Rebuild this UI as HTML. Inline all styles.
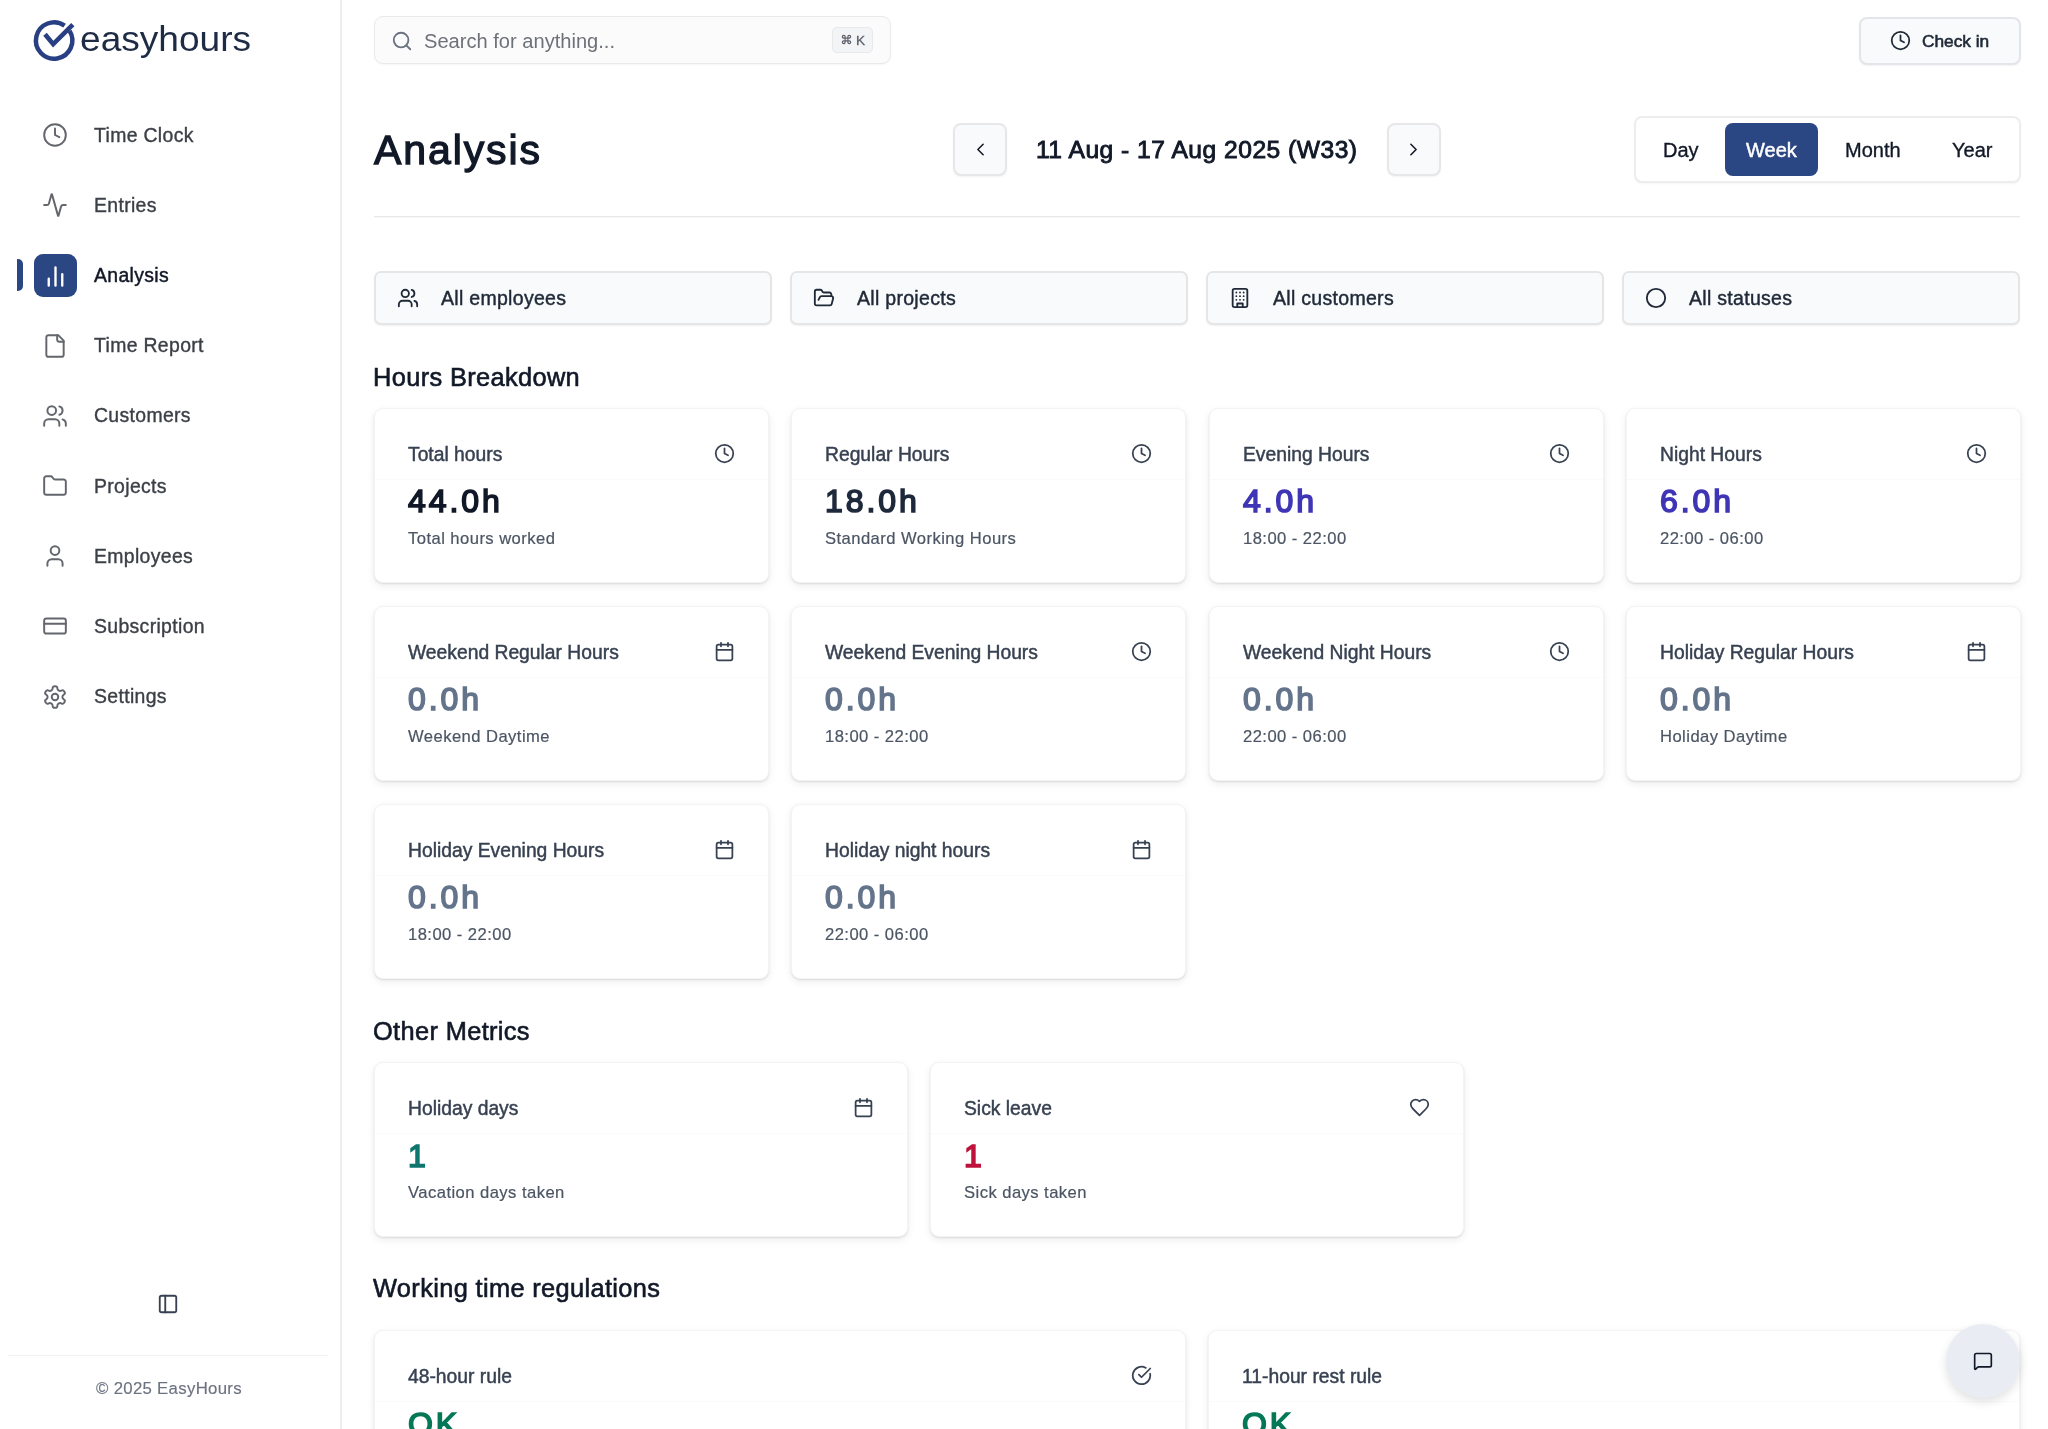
<!DOCTYPE html>
<html><head><meta charset="utf-8"><title>Analysis - easyhours</title>
<style>
html,body{margin:0;padding:0;width:2048px;height:1429px;overflow:hidden;background:#FFFFFF;}
body{position:relative;font-family:"Liberation Sans",sans-serif;}
.t{position:absolute;line-height:1;white-space:nowrap;will-change:transform;}
.ic{position:absolute;display:block;}
.box{position:absolute;box-sizing:border-box;}
.card{position:absolute;box-sizing:border-box;background:#FFFFFF;border:1px solid #F4F4F5;border-radius:9px;box-shadow:0 3px 8px rgba(0,0,0,0.07),0 1px 2px rgba(0,0,0,0.1);}
.sidebar{position:absolute;left:0;top:0;width:340px;height:1429px;border-right:2px solid #EEEEEF;box-sizing:content-box;background:#FFFFFF;}
</style></head><body>
<div class="sidebar"></div>
<svg class="ic" style="left:28px;top:14px" width="54" height="54" viewBox="28 14 54 54" fill="none">
<path d="M69.6 30.9 A18.2 18.2 0 1 1 64.6 25.6" stroke="#293F84" stroke-width="4.5" stroke-linecap="butt"/>
<path d="M45 34.2 L53.2 44.2 L72.8 24.6" stroke="#293F84" stroke-width="4.6" stroke-linecap="butt" stroke-linejoin="miter"/>
</svg>
<div class="t" style="left:80px;top:21.79px;font-size:34.5px;color:#1E2B45;font-weight:normal;transform:scaleX(1.075);transform-origin:0 0">easyhours</div>
<svg class="ic" style="left:42px;top:122.0px;" width="26" height="26" viewBox="0 0 24 24" fill="none" stroke="#63666C" stroke-width="1.8" stroke-linecap="round" stroke-linejoin="round"><circle cx="12" cy="12" r="10"/><path d="M12 6v6l4 2"/></svg>
<div class="t" style="left:94px;top:125.57px;font-size:19.4px;color:#3B3F46;font-weight:normal;-webkit-text-stroke:0.38px #3B3F46;letter-spacing:0.35px">Time Clock</div>
<svg class="ic" style="left:42px;top:192.2px;" width="26" height="26" viewBox="0 0 24 24" fill="none" stroke="#63666C" stroke-width="1.8" stroke-linecap="round" stroke-linejoin="round"><path d="M22 12h-2.48a2 2 0 0 0-1.93 1.46l-2.35 8.36a.25.25 0 0 1-.48 0L9.24 2.18a.25.25 0 0 0-.48 0l-2.35 8.36A2 2 0 0 1 4.49 12H2"/></svg>
<div class="t" style="left:94px;top:195.77px;font-size:19.4px;color:#3B3F46;font-weight:normal;-webkit-text-stroke:0.38px #3B3F46;letter-spacing:0.35px">Entries</div>
<div style="position:absolute;left:17px;top:259px;width:5.5px;height:32px;background:#2A4683;border-radius:0 5px 5px 0"></div>
<div style="position:absolute;left:34px;top:254px;width:43px;height:43px;background:#2A4683;border-radius:9px"></div>
<svg class="ic" style="left:41.5px;top:262.9px;" width="27" height="27" viewBox="0 0 24 24" fill="none" stroke="#FFFFFF" stroke-width="2.1" stroke-linecap="round" stroke-linejoin="round"><path d="M18 20V10"/><path d="M12 20V4"/><path d="M6 20v-6"/></svg>
<div class="t" style="left:94px;top:265.97px;font-size:19.4px;color:#111827;font-weight:normal;-webkit-text-stroke:0.45px #111827;letter-spacing:0.35px">Analysis</div>
<svg class="ic" style="left:42px;top:332.6px;" width="26" height="26" viewBox="0 0 24 24" fill="none" stroke="#63666C" stroke-width="1.8" stroke-linecap="round" stroke-linejoin="round"><path d="M15 2H6a2 2 0 0 0-2 2v16a2 2 0 0 0 2 2h12a2 2 0 0 0 2-2V7Z"/><path d="M14 2v4a2 2 0 0 0 2 2h4"/></svg>
<div class="t" style="left:94px;top:336.17px;font-size:19.4px;color:#3B3F46;font-weight:normal;-webkit-text-stroke:0.38px #3B3F46;letter-spacing:0.35px">Time Report</div>
<svg class="ic" style="left:42px;top:402.8px;" width="26" height="26" viewBox="0 0 24 24" fill="none" stroke="#63666C" stroke-width="1.8" stroke-linecap="round" stroke-linejoin="round"><path d="M16 21v-2a4 4 0 0 0-4-4H6a4 4 0 0 0-4 4v2"/><circle cx="9" cy="7" r="4"/><path d="M22 21v-2a4 4 0 0 0-3-3.87"/><path d="M16 3.13a4 4 0 0 1 0 7.75"/></svg>
<div class="t" style="left:94px;top:406.37px;font-size:19.4px;color:#3B3F46;font-weight:normal;-webkit-text-stroke:0.38px #3B3F46;letter-spacing:0.35px">Customers</div>
<svg class="ic" style="left:42px;top:473.0px;" width="26" height="26" viewBox="0 0 24 24" fill="none" stroke="#63666C" stroke-width="1.8" stroke-linecap="round" stroke-linejoin="round"><path d="M20 20a2 2 0 0 0 2-2V8a2 2 0 0 0-2-2h-7.9a2 2 0 0 1-1.69-.9L9.6 3.9A2 2 0 0 0 7.93 3H4a2 2 0 0 0-2 2v13a2 2 0 0 0 2 2Z"/></svg>
<div class="t" style="left:94px;top:476.57px;font-size:19.4px;color:#3B3F46;font-weight:normal;-webkit-text-stroke:0.38px #3B3F46;letter-spacing:0.35px">Projects</div>
<svg class="ic" style="left:42px;top:543.2px;" width="26" height="26" viewBox="0 0 24 24" fill="none" stroke="#63666C" stroke-width="1.8" stroke-linecap="round" stroke-linejoin="round"><path d="M19 21v-2a4 4 0 0 0-4-4H9a4 4 0 0 0-4 4v2"/><circle cx="12" cy="7" r="4"/></svg>
<div class="t" style="left:94px;top:546.77px;font-size:19.4px;color:#3B3F46;font-weight:normal;-webkit-text-stroke:0.38px #3B3F46;letter-spacing:0.35px">Employees</div>
<svg class="ic" style="left:42px;top:613.4000000000001px;" width="26" height="26" viewBox="0 0 24 24" fill="none" stroke="#63666C" stroke-width="1.8" stroke-linecap="round" stroke-linejoin="round"><rect width="20" height="14" x="2" y="5" rx="2"/><path d="M2 10h20"/></svg>
<div class="t" style="left:94px;top:616.97px;font-size:19.4px;color:#3B3F46;font-weight:normal;-webkit-text-stroke:0.38px #3B3F46;letter-spacing:0.35px">Subscription</div>
<svg class="ic" style="left:42px;top:683.6px;" width="26" height="26" viewBox="0 0 24 24" fill="none" stroke="#63666C" stroke-width="1.8" stroke-linecap="round" stroke-linejoin="round"><path d="M12.22 2h-.44a2 2 0 0 0-2 2v.18a2 2 0 0 1-1 1.73l-.43.25a2 2 0 0 1-2 0l-.15-.08a2 2 0 0 0-2.73.73l-.22.38a2 2 0 0 0 .73 2.73l.15.1a2 2 0 0 1 1 1.72v.51a2 2 0 0 1-1 1.74l-.15.09a2 2 0 0 0-.73 2.73l.22.38a2 2 0 0 0 2.73.73l.15-.08a2 2 0 0 1 2 0l.43.25a2 2 0 0 1 1 1.73V20a2 2 0 0 0 2 2h.44a2 2 0 0 0 2-2v-.18a2 2 0 0 1 1-1.73l.43-.25a2 2 0 0 1 2 0l.15.08a2 2 0 0 0 2.73-.73l.22-.39a2 2 0 0 0-.73-2.73l-.15-.08a2 2 0 0 1-1-1.74v-.5a2 2 0 0 1 1-1.74l.15-.09a2 2 0 0 0 .73-2.73l-.22-.38a2 2 0 0 0-2.73-.73l-.15.08a2 2 0 0 1-2 0l-.43-.25a2 2 0 0 1-1-1.73V4a2 2 0 0 0-2-2z"/><circle cx="12" cy="12" r="3"/></svg>
<div class="t" style="left:94px;top:687.17px;font-size:19.4px;color:#3B3F46;font-weight:normal;-webkit-text-stroke:0.38px #3B3F46;letter-spacing:0.35px">Settings</div>
<svg class="ic" style="left:157px;top:1292.5px;" width="22" height="22" viewBox="0 0 24 24" fill="none" stroke="#374151" stroke-width="2" stroke-linecap="round" stroke-linejoin="round"><rect width="18" height="18" x="3" y="3" rx="2"/><path d="M9 3v18"/></svg>
<div style="position:absolute;left:8px;top:1355px;width:320px;height:1px;background:#F1F1F2"></div>
<div class="t" style="left:95.5px;top:1381.08px;font-size:16.8px;color:#6B7280;font-weight:normal;letter-spacing:0.3px;-webkit-text-stroke:0.15px #6B7280">© 2025 EasyHours</div>
<div class="box" style="left:374px;top:16px;width:517px;height:48px;border-radius:9px;background:#FBFBFC;border:1.5px solid #EAEAEC;box-shadow:0 1px 2px rgba(0,0,0,0.04)"></div>
<svg class="ic" style="left:391px;top:30px;" width="22" height="22" viewBox="0 0 24 24" fill="none" stroke="#6B7280" stroke-width="2" stroke-linecap="round" stroke-linejoin="round"><circle cx="11" cy="11" r="8"/><path d="m21 21-4.3-4.3"/></svg>
<div class="t" style="left:424px;top:31.48px;font-size:20.1px;color:#6E7178;font-weight:normal;">Search for anything...</div>
<div class="box" style="left:832px;top:27px;width:41px;height:26px;border-radius:5px;background:#F3F4F6;border:1px solid #E8E9EC"></div>
<svg class="ic" style="left:841px;top:34px" width="11" height="11" viewBox="0 0 24 24" fill="none" stroke="#5B616B" stroke-width="2.6" stroke-linecap="round" stroke-linejoin="round"><path d="M15 6v12a3 3 0 1 0 3-3H6a3 3 0 1 0 3 3V6a3 3 0 1 0-3 3h12a3 3 0 1 0-3-3"/></svg>
<div class="t" style="left:856.3px;top:33.68px;font-size:13.6px;color:#5B616B;font-weight:normal;-webkit-text-stroke:0.3px #5B616B">K</div>
<div class="box" style="left:1859px;top:17px;width:162px;height:48px;border-radius:8px;background:#F9FAFB;border:2px solid #E4E5EA;box-shadow:0 1px 2px rgba(0,0,0,0.05)"></div>
<svg class="ic" style="left:1890px;top:30px;" width="21" height="21" viewBox="0 0 24 24" fill="none" stroke="#1F2937" stroke-width="2" stroke-linecap="round" stroke-linejoin="round"><circle cx="12" cy="12" r="10"/><path d="M12 6v6l4 2"/></svg>
<div class="t" style="left:1922px;top:32.55px;font-size:17.3px;color:#1F2937;font-weight:normal;-webkit-text-stroke:0.6px #1F2937">Check in</div>
<div class="t" style="left:374px;top:129.89px;font-size:41px;color:#111827;font-weight:normal;-webkit-text-stroke:1.3px #111827;letter-spacing:1.9px">Analysis</div>
<div class="box" style="left:953px;top:123px;width:54px;height:53px;border-radius:8px;background:#F9FAFB;border:2px solid #E7E7E9;box-shadow:0 1px 2px rgba(0,0,0,0.05)"></div>
<svg class="ic" style="left:970px;top:139px;" width="21" height="21" viewBox="0 0 24 24" fill="none" stroke="#111827" stroke-width="1.8" stroke-linecap="round" stroke-linejoin="round"><path d="m15 18-6-6 6-6"/></svg>
<div class="t" style="left:1035.5px;top:138.17px;font-size:24.6px;color:#111827;font-weight:normal;-webkit-text-stroke:0.9px #111827;letter-spacing:0.5px">11 Aug - 17 Aug 2025 (W33)</div>
<div class="box" style="left:1387px;top:123px;width:54px;height:53px;border-radius:8px;background:#F9FAFB;border:2px solid #E7E7E9;box-shadow:0 1px 2px rgba(0,0,0,0.05)"></div>
<svg class="ic" style="left:1403px;top:139px;" width="21" height="21" viewBox="0 0 24 24" fill="none" stroke="#111827" stroke-width="1.8" stroke-linecap="round" stroke-linejoin="round"><path d="m9 18 6-6-6-6"/></svg>
<div class="box" style="left:1634px;top:116px;width:387px;height:67px;border-radius:8px;background:#FFFFFF;border:2px solid #EDEDEE;box-shadow:0 1px 2px rgba(0,0,0,0.04)"></div>
<div class="box" style="left:1725px;top:123px;width:93px;height:53px;border-radius:8px;background:#2A4683"></div>
<div class="t" style="left:1663px;top:140.07px;font-size:20px;color:#111827;font-weight:normal;-webkit-text-stroke:0.35px #111827">Day</div>
<div class="t" style="left:1746px;top:140.07px;font-size:20px;color:#FFFFFF;font-weight:normal;-webkit-text-stroke:0.45px #FFFFFF">Week</div>
<div class="t" style="left:1845px;top:140.07px;font-size:20px;color:#111827;font-weight:normal;-webkit-text-stroke:0.35px #111827">Month</div>
<div class="t" style="left:1952px;top:140.07px;font-size:20px;color:#111827;font-weight:normal;-webkit-text-stroke:0.35px #111827">Year</div>
<div style="position:absolute;left:374px;top:216px;width:1646px;height:1px;background:#E6E7E9;box-shadow:0 1px 2px rgba(0,0,0,0.05)"></div>
<div class="box" style="left:374px;top:271px;width:398px;height:54px;border-radius:7px;background:#F9FAFB;border:2px solid #E6E6E8;box-shadow:0 1px 2px rgba(0,0,0,0.06)"></div>
<svg class="ic" style="left:397px;top:287px;" width="22" height="22" viewBox="0 0 24 24" fill="none" stroke="#1F2937" stroke-width="2" stroke-linecap="round" stroke-linejoin="round"><path d="M16 21v-2a4 4 0 0 0-4-4H6a4 4 0 0 0-4 4v2"/><circle cx="9" cy="7" r="4"/><path d="M22 21v-2a4 4 0 0 0-3-3.87"/><path d="M16 3.13a4 4 0 0 1 0 7.75"/></svg>
<div class="t" style="left:441px;top:289.29px;font-size:19.5px;color:#1F2937;font-weight:normal;-webkit-text-stroke:0.45px #1F2937;letter-spacing:0.3px">All employees</div>
<div class="box" style="left:790px;top:271px;width:398px;height:54px;border-radius:7px;background:#F9FAFB;border:2px solid #E6E6E8;box-shadow:0 1px 2px rgba(0,0,0,0.06)"></div>
<svg class="ic" style="left:813px;top:287px;" width="22" height="22" viewBox="0 0 24 24" fill="none" stroke="#1F2937" stroke-width="2" stroke-linecap="round" stroke-linejoin="round"><path d="m6 14 1.5-2.9A2 2 0 0 1 9.24 10H20a2 2 0 0 1 1.94 2.5l-1.54 6a2 2 0 0 1-1.95 1.5H4a2 2 0 0 1-2-2V5a2 2 0 0 1 2-2h3.9a2 2 0 0 1 1.69.9l.81 1.2a2 2 0 0 0 1.67.9H18a2 2 0 0 1 2 2v2"/></svg>
<div class="t" style="left:857px;top:289.29px;font-size:19.5px;color:#1F2937;font-weight:normal;-webkit-text-stroke:0.45px #1F2937;letter-spacing:0.3px">All projects</div>
<div class="box" style="left:1206px;top:271px;width:398px;height:54px;border-radius:7px;background:#F9FAFB;border:2px solid #E6E6E8;box-shadow:0 1px 2px rgba(0,0,0,0.06)"></div>
<svg class="ic" style="left:1229px;top:287px;" width="22" height="22" viewBox="0 0 24 24" fill="none" stroke="#1F2937" stroke-width="2" stroke-linecap="round" stroke-linejoin="round"><rect width="16" height="20" x="4" y="2" rx="2" ry="2"/><path d="M9 22v-4h6v4"/><path d="M8 6h.01"/><path d="M16 6h.01"/><path d="M12 6h.01"/><path d="M12 10h.01"/><path d="M12 14h.01"/><path d="M16 10h.01"/><path d="M16 14h.01"/><path d="M8 10h.01"/><path d="M8 14h.01"/></svg>
<div class="t" style="left:1273px;top:289.29px;font-size:19.5px;color:#1F2937;font-weight:normal;-webkit-text-stroke:0.45px #1F2937;letter-spacing:0.3px">All customers</div>
<div class="box" style="left:1622px;top:271px;width:398px;height:54px;border-radius:7px;background:#F9FAFB;border:2px solid #E6E6E8;box-shadow:0 1px 2px rgba(0,0,0,0.06)"></div>
<svg class="ic" style="left:1645px;top:287px;" width="22" height="22" viewBox="0 0 24 24" fill="none" stroke="#1F2937" stroke-width="2" stroke-linecap="round" stroke-linejoin="round"><circle cx="12" cy="12" r="10"/></svg>
<div class="t" style="left:1689px;top:289.29px;font-size:19.5px;color:#1F2937;font-weight:normal;-webkit-text-stroke:0.45px #1F2937;letter-spacing:0.3px">All statuses</div>
<div class="t" style="left:372.5px;top:364.99px;font-size:25.4px;color:#111827;font-weight:normal;-webkit-text-stroke:0.6px #111827;letter-spacing:0.35px">Hours Breakdown</div>
<div class="card" style="left:374.0px;top:407.5px;width:395px;height:175.5px"></div>
<div style="position:absolute;left:375.0px;top:478.5px;width:393px;height:1px;background:#FAFAFB"></div>
<div class="t" style="left:408.0px;top:444.66px;font-size:19.3px;color:#374151;font-weight:normal;-webkit-text-stroke:0.45px #374151">Total hours</div>
<svg class="ic" style="left:714.0px;top:442.5px;" width="21" height="21" viewBox="0 0 24 24" fill="none" stroke="#374151" stroke-width="2" stroke-linecap="round" stroke-linejoin="round"><circle cx="12" cy="12" r="10"/><path d="M12 6v6l4 2"/></svg>
<div class="t" style="left:408.0px;top:485.41px;font-size:32px;color:#111827;font-weight:normal;-webkit-text-stroke:1.6px #111827;letter-spacing:2.9px">44.0h</div>
<div class="t" style="left:408.0px;top:530.94px;font-size:16.6px;color:#4B5563;font-weight:normal;-webkit-text-stroke:0.2px #4B5563;letter-spacing:0.45px">Total hours worked</div>
<div class="card" style="left:791.3px;top:407.5px;width:395px;height:175.5px"></div>
<div style="position:absolute;left:792.3px;top:478.5px;width:393px;height:1px;background:#FAFAFB"></div>
<div class="t" style="left:825.3px;top:444.66px;font-size:19.3px;color:#374151;font-weight:normal;-webkit-text-stroke:0.45px #374151">Regular Hours</div>
<svg class="ic" style="left:1131.3px;top:442.5px;" width="21" height="21" viewBox="0 0 24 24" fill="none" stroke="#374151" stroke-width="2" stroke-linecap="round" stroke-linejoin="round"><circle cx="12" cy="12" r="10"/><path d="M12 6v6l4 2"/></svg>
<div class="t" style="left:825.3px;top:485.41px;font-size:32px;color:#1E293B;font-weight:normal;-webkit-text-stroke:1.6px #1E293B;letter-spacing:2.9px">18.0h</div>
<div class="t" style="left:825.3px;top:530.94px;font-size:16.6px;color:#4B5563;font-weight:normal;-webkit-text-stroke:0.2px #4B5563;letter-spacing:0.45px">Standard Working Hours</div>
<div class="card" style="left:1208.6px;top:407.5px;width:395px;height:175.5px"></div>
<div style="position:absolute;left:1209.6px;top:478.5px;width:393px;height:1px;background:#FAFAFB"></div>
<div class="t" style="left:1242.6px;top:444.66px;font-size:19.3px;color:#374151;font-weight:normal;-webkit-text-stroke:0.45px #374151">Evening Hours</div>
<svg class="ic" style="left:1548.6px;top:442.5px;" width="21" height="21" viewBox="0 0 24 24" fill="none" stroke="#374151" stroke-width="2" stroke-linecap="round" stroke-linejoin="round"><circle cx="12" cy="12" r="10"/><path d="M12 6v6l4 2"/></svg>
<div class="t" style="left:1242.6px;top:485.41px;font-size:32px;color:#3F35B5;font-weight:normal;-webkit-text-stroke:1.6px #3F35B5;letter-spacing:2.9px">4.0h</div>
<div class="t" style="left:1242.6px;top:530.94px;font-size:16.6px;color:#4B5563;font-weight:normal;-webkit-text-stroke:0.2px #4B5563;letter-spacing:0.45px">18:00 - 22:00</div>
<div class="card" style="left:1625.9px;top:407.5px;width:395px;height:175.5px"></div>
<div style="position:absolute;left:1626.9px;top:478.5px;width:393px;height:1px;background:#FAFAFB"></div>
<div class="t" style="left:1659.9px;top:444.66px;font-size:19.3px;color:#374151;font-weight:normal;-webkit-text-stroke:0.45px #374151">Night Hours</div>
<svg class="ic" style="left:1965.9px;top:442.5px;" width="21" height="21" viewBox="0 0 24 24" fill="none" stroke="#374151" stroke-width="2" stroke-linecap="round" stroke-linejoin="round"><circle cx="12" cy="12" r="10"/><path d="M12 6v6l4 2"/></svg>
<div class="t" style="left:1659.9px;top:485.41px;font-size:32px;color:#3F35B5;font-weight:normal;-webkit-text-stroke:1.6px #3F35B5;letter-spacing:2.9px">6.0h</div>
<div class="t" style="left:1659.9px;top:530.94px;font-size:16.6px;color:#4B5563;font-weight:normal;-webkit-text-stroke:0.2px #4B5563;letter-spacing:0.45px">22:00 - 06:00</div>
<div class="card" style="left:374.0px;top:605.5px;width:395px;height:175.5px"></div>
<div style="position:absolute;left:375.0px;top:676.5px;width:393px;height:1px;background:#FAFAFB"></div>
<div class="t" style="left:408.0px;top:642.66px;font-size:19.3px;color:#374151;font-weight:normal;-webkit-text-stroke:0.45px #374151">Weekend Regular Hours</div>
<svg class="ic" style="left:714.0px;top:640.5px;" width="21" height="21" viewBox="0 0 24 24" fill="none" stroke="#374151" stroke-width="2" stroke-linecap="round" stroke-linejoin="round"><path d="M8 2v4"/><path d="M16 2v4"/><rect width="18" height="18" x="3" y="4" rx="2"/><path d="M3 10h18"/></svg>
<div class="t" style="left:408.0px;top:683.41px;font-size:32px;color:#64748B;font-weight:normal;-webkit-text-stroke:1.6px #64748B;letter-spacing:2.9px">0.0h</div>
<div class="t" style="left:408.0px;top:728.94px;font-size:16.6px;color:#4B5563;font-weight:normal;-webkit-text-stroke:0.2px #4B5563;letter-spacing:0.45px">Weekend Daytime</div>
<div class="card" style="left:791.3px;top:605.5px;width:395px;height:175.5px"></div>
<div style="position:absolute;left:792.3px;top:676.5px;width:393px;height:1px;background:#FAFAFB"></div>
<div class="t" style="left:825.3px;top:642.66px;font-size:19.3px;color:#374151;font-weight:normal;-webkit-text-stroke:0.45px #374151">Weekend Evening Hours</div>
<svg class="ic" style="left:1131.3px;top:640.5px;" width="21" height="21" viewBox="0 0 24 24" fill="none" stroke="#374151" stroke-width="2" stroke-linecap="round" stroke-linejoin="round"><circle cx="12" cy="12" r="10"/><path d="M12 6v6l4 2"/></svg>
<div class="t" style="left:825.3px;top:683.41px;font-size:32px;color:#64748B;font-weight:normal;-webkit-text-stroke:1.6px #64748B;letter-spacing:2.9px">0.0h</div>
<div class="t" style="left:825.3px;top:728.94px;font-size:16.6px;color:#4B5563;font-weight:normal;-webkit-text-stroke:0.2px #4B5563;letter-spacing:0.45px">18:00 - 22:00</div>
<div class="card" style="left:1208.6px;top:605.5px;width:395px;height:175.5px"></div>
<div style="position:absolute;left:1209.6px;top:676.5px;width:393px;height:1px;background:#FAFAFB"></div>
<div class="t" style="left:1242.6px;top:642.66px;font-size:19.3px;color:#374151;font-weight:normal;-webkit-text-stroke:0.45px #374151">Weekend Night Hours</div>
<svg class="ic" style="left:1548.6px;top:640.5px;" width="21" height="21" viewBox="0 0 24 24" fill="none" stroke="#374151" stroke-width="2" stroke-linecap="round" stroke-linejoin="round"><circle cx="12" cy="12" r="10"/><path d="M12 6v6l4 2"/></svg>
<div class="t" style="left:1242.6px;top:683.41px;font-size:32px;color:#64748B;font-weight:normal;-webkit-text-stroke:1.6px #64748B;letter-spacing:2.9px">0.0h</div>
<div class="t" style="left:1242.6px;top:728.94px;font-size:16.6px;color:#4B5563;font-weight:normal;-webkit-text-stroke:0.2px #4B5563;letter-spacing:0.45px">22:00 - 06:00</div>
<div class="card" style="left:1625.9px;top:605.5px;width:395px;height:175.5px"></div>
<div style="position:absolute;left:1626.9px;top:676.5px;width:393px;height:1px;background:#FAFAFB"></div>
<div class="t" style="left:1659.9px;top:642.66px;font-size:19.3px;color:#374151;font-weight:normal;-webkit-text-stroke:0.45px #374151">Holiday Regular Hours</div>
<svg class="ic" style="left:1965.9px;top:640.5px;" width="21" height="21" viewBox="0 0 24 24" fill="none" stroke="#374151" stroke-width="2" stroke-linecap="round" stroke-linejoin="round"><path d="M8 2v4"/><path d="M16 2v4"/><rect width="18" height="18" x="3" y="4" rx="2"/><path d="M3 10h18"/></svg>
<div class="t" style="left:1659.9px;top:683.41px;font-size:32px;color:#64748B;font-weight:normal;-webkit-text-stroke:1.6px #64748B;letter-spacing:2.9px">0.0h</div>
<div class="t" style="left:1659.9px;top:728.94px;font-size:16.6px;color:#4B5563;font-weight:normal;-webkit-text-stroke:0.2px #4B5563;letter-spacing:0.45px">Holiday Daytime</div>
<div class="card" style="left:374.0px;top:803.5px;width:395px;height:175.5px"></div>
<div style="position:absolute;left:375.0px;top:874.5px;width:393px;height:1px;background:#FAFAFB"></div>
<div class="t" style="left:408.0px;top:840.66px;font-size:19.3px;color:#374151;font-weight:normal;-webkit-text-stroke:0.45px #374151">Holiday Evening Hours</div>
<svg class="ic" style="left:714.0px;top:838.5px;" width="21" height="21" viewBox="0 0 24 24" fill="none" stroke="#374151" stroke-width="2" stroke-linecap="round" stroke-linejoin="round"><path d="M8 2v4"/><path d="M16 2v4"/><rect width="18" height="18" x="3" y="4" rx="2"/><path d="M3 10h18"/></svg>
<div class="t" style="left:408.0px;top:881.41px;font-size:32px;color:#64748B;font-weight:normal;-webkit-text-stroke:1.6px #64748B;letter-spacing:2.9px">0.0h</div>
<div class="t" style="left:408.0px;top:926.94px;font-size:16.6px;color:#4B5563;font-weight:normal;-webkit-text-stroke:0.2px #4B5563;letter-spacing:0.45px">18:00 - 22:00</div>
<div class="card" style="left:791.3px;top:803.5px;width:395px;height:175.5px"></div>
<div style="position:absolute;left:792.3px;top:874.5px;width:393px;height:1px;background:#FAFAFB"></div>
<div class="t" style="left:825.3px;top:840.66px;font-size:19.3px;color:#374151;font-weight:normal;-webkit-text-stroke:0.45px #374151">Holiday night hours</div>
<svg class="ic" style="left:1131.3px;top:838.5px;" width="21" height="21" viewBox="0 0 24 24" fill="none" stroke="#374151" stroke-width="2" stroke-linecap="round" stroke-linejoin="round"><path d="M8 2v4"/><path d="M16 2v4"/><rect width="18" height="18" x="3" y="4" rx="2"/><path d="M3 10h18"/></svg>
<div class="t" style="left:825.3px;top:881.41px;font-size:32px;color:#64748B;font-weight:normal;-webkit-text-stroke:1.6px #64748B;letter-spacing:2.9px">0.0h</div>
<div class="t" style="left:825.3px;top:926.94px;font-size:16.6px;color:#4B5563;font-weight:normal;-webkit-text-stroke:0.2px #4B5563;letter-spacing:0.45px">22:00 - 06:00</div>
<div class="t" style="left:372.5px;top:1019.49px;font-size:25.4px;color:#111827;font-weight:normal;-webkit-text-stroke:0.6px #111827;letter-spacing:0.35px">Other Metrics</div>
<div class="card" style="left:374px;top:1062px;width:534px;height:175px"></div>
<div style="position:absolute;left:375px;top:1133px;width:532px;height:1px;background:#FAFAFB"></div>
<div class="t" style="left:408px;top:1099.16px;font-size:19.3px;color:#374151;font-weight:normal;-webkit-text-stroke:0.45px #374151">Holiday days</div>
<svg class="ic" style="left:853px;top:1097px;" width="21" height="21" viewBox="0 0 24 24" fill="none" stroke="#374151" stroke-width="2" stroke-linecap="round" stroke-linejoin="round"><path d="M8 2v4"/><path d="M16 2v4"/><rect width="18" height="18" x="3" y="4" rx="2"/><path d="M3 10h18"/></svg>
<div class="t" style="left:408px;top:1139.91px;font-size:32px;color:#0F766E;font-weight:normal;-webkit-text-stroke:1.6px #0F766E;letter-spacing:2.9px">1</div>
<div class="t" style="left:408px;top:1185.44px;font-size:16.6px;color:#4B5563;font-weight:normal;-webkit-text-stroke:0.2px #4B5563;letter-spacing:0.45px">Vacation days taken</div>
<div class="card" style="left:930px;top:1062px;width:534px;height:175px"></div>
<div style="position:absolute;left:931px;top:1133px;width:532px;height:1px;background:#FAFAFB"></div>
<div class="t" style="left:964px;top:1099.16px;font-size:19.3px;color:#374151;font-weight:normal;-webkit-text-stroke:0.45px #374151">Sick leave</div>
<svg class="ic" style="left:1409px;top:1097px;" width="21" height="21" viewBox="0 0 24 24" fill="none" stroke="#374151" stroke-width="2" stroke-linecap="round" stroke-linejoin="round"><path d="M19 14c1.49-1.46 3-3.21 3-5.5A5.5 5.5 0 0 0 16.5 3c-1.76 0-3 .5-4.5 2-1.5-1.5-2.74-2-4.5-2A5.5 5.5 0 0 0 2 8.5c0 2.3 1.5 4.05 3 5.5l7 7Z"/></svg>
<div class="t" style="left:964px;top:1139.91px;font-size:32px;color:#BE123C;font-weight:normal;-webkit-text-stroke:1.6px #BE123C;letter-spacing:2.9px">1</div>
<div class="t" style="left:964px;top:1185.44px;font-size:16.6px;color:#4B5563;font-weight:normal;-webkit-text-stroke:0.2px #4B5563;letter-spacing:0.45px">Sick days taken</div>
<div class="t" style="left:372.5px;top:1276.49px;font-size:25.4px;color:#111827;font-weight:normal;-webkit-text-stroke:0.6px #111827;letter-spacing:0.35px">Working time regulations</div>
<div class="card" style="left:374px;top:1330px;width:812px;height:176px"></div>
<div style="position:absolute;left:375px;top:1401px;width:810px;height:1px;background:#FAFAFB"></div>
<div class="t" style="left:408px;top:1367.16px;font-size:19.3px;color:#374151;font-weight:normal;-webkit-text-stroke:0.45px #374151">48-hour rule</div>
<svg class="ic" style="left:1131px;top:1365px;" width="21" height="21" viewBox="0 0 24 24" fill="none" stroke="#374151" stroke-width="2" stroke-linecap="round" stroke-linejoin="round"><path d="M21.801 10A10 10 0 1 1 17 3.335"/><path d="m9 11 3 3L22 4"/></svg>
<div class="t" style="left:408px;top:1407.91px;font-size:32px;color:#047857;font-weight:normal;-webkit-text-stroke:1.6px #047857;letter-spacing:2.9px">OK</div>
<div class="card" style="left:1208px;top:1330px;width:812px;height:176px"></div>
<div style="position:absolute;left:1209px;top:1401px;width:810px;height:1px;background:#FAFAFB"></div>
<div class="t" style="left:1242px;top:1367.16px;font-size:19.3px;color:#374151;font-weight:normal;-webkit-text-stroke:0.45px #374151">11-hour rest rule</div>
<svg class="ic" style="left:1965px;top:1365px;" width="21" height="21" viewBox="0 0 24 24" fill="none" stroke="#374151" stroke-width="2" stroke-linecap="round" stroke-linejoin="round"><path d="M21.801 10A10 10 0 1 1 17 3.335"/><path d="m9 11 3 3L22 4"/></svg>
<div class="t" style="left:1242px;top:1407.91px;font-size:32px;color:#047857;font-weight:normal;-webkit-text-stroke:1.6px #047857;letter-spacing:2.9px">OK</div>
<div class="box" style="left:1946px;top:1324px;width:74px;height:74px;border-radius:50%;background:#E9EDF3;box-shadow:0 4px 10px rgba(0,0,0,0.12)"></div>
<svg class="ic" style="left:1973px;top:1351px;" width="20" height="20" viewBox="0 0 24 24" fill="none" stroke="#111827" stroke-width="2" stroke-linecap="round" stroke-linejoin="round"><path d="M22 17a2 2 0 0 1-2 2H6.828a2 2 0 0 0-1.414.586l-2.202 2.202A.71.71 0 0 1 2 21.286V5a2 2 0 0 1 2-2h16a2 2 0 0 1 2 2z"/></svg>
</body></html>
